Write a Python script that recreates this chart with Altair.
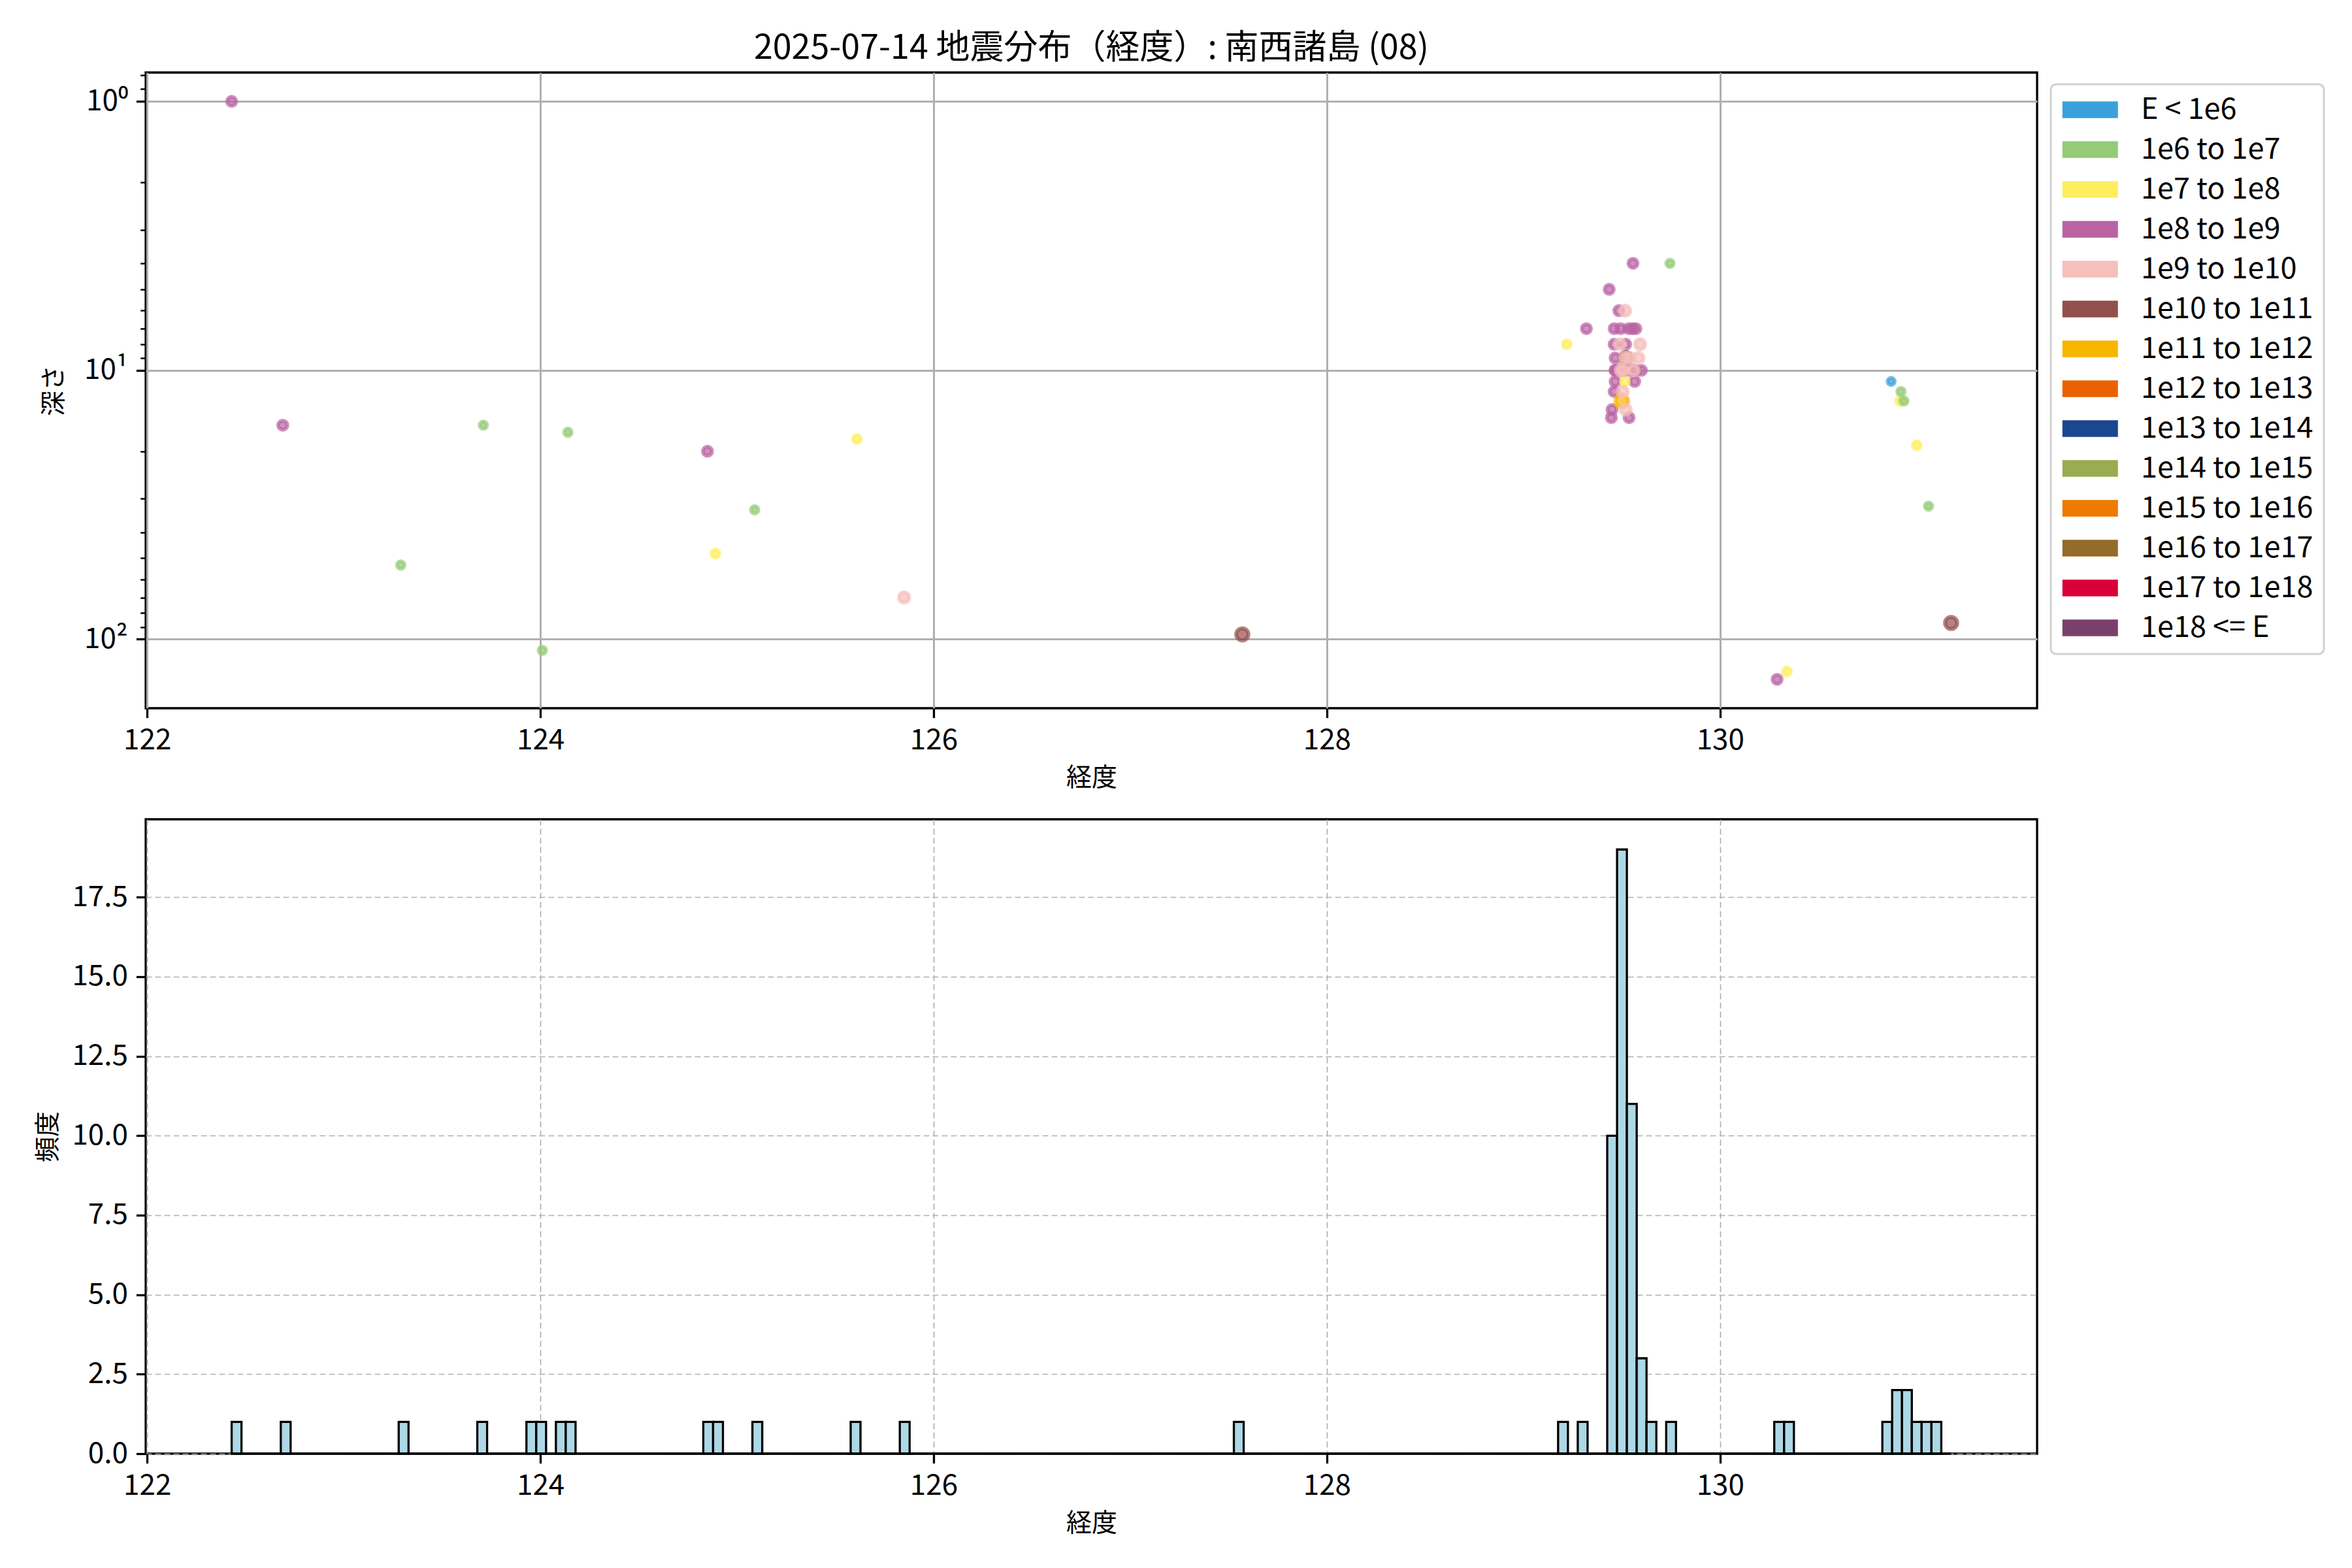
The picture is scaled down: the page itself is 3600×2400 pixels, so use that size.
import altair as alt
import pandas as pd
import math

TITLE = "2025-07-14 地震分布（経度）: 南西諸島 (08)"
FONT = "Noto Sans CJK JP"

CLASSES = ["E < 1e6", "1e6 to 1e7", "1e7 to 1e8", "1e8 to 1e9", "1e9 to 1e10",
           "1e10 to 1e11", "1e11 to 1e12", "1e12 to 1e13", "1e13 to 1e14",
           "1e14 to 1e15", "1e15 to 1e16", "1e16 to 1e17", "1e17 to 1e18", "1e18 <= E"]
COLORS = ["#3aa0dc", "#93cb76", "#fdee5f", "#b963a3", "#f5bfbb", "#934f4b", "#f8b500",
          "#ea6000", "#1b4790", "#9aab50", "#ef7a00", "#936b2a", "#d9003a", "#7b3f6e"]
DIAMETERS = [12, 12.5, 13.5, 15.5, 17.5, 21, 22, 24, 26, 28, 30, 32, 34, 36]

# longitude, depth (0 = no depth, not drawn on the log axis), energy class index
LON = [122.43, 122.69, 123.29, 123.71, 123.955, 124.01, 124.10, 124.14,
       124.85, 124.89, 125.09, 125.61, 125.85, 127.57,
       129.22, 129.32, 129.745,
       129.436, 129.461, 129.461, 129.466, 129.466, 129.461, 129.45, 129.447, 129.465, 129.47,
       129.485, 129.494, 129.52, 129.485, 129.49, 129.50, 129.505, 129.515, 129.52,
       129.557, 129.535, 129.555, 129.572, 129.566, 129.537, 129.54, 129.55, 129.57,
       129.60,
       129.516, 129.50, 129.52,
       129.517, 129.49, 129.516, 129.505, 129.52, 129.51, 129.495, 129.54, 129.56, 129.593, 129.585,
       129.65,
       130.29, 130.34, 130.87, 130.915, 130.92, 130.935, 130.95, 131.00, 131.06, 131.175]
DEPTH = [1, 16, 53, 16, 0, 110, 0, 17,
         20, 48, 33, 18, 70, 96,
         8, 7, 4,
         5, 7, 8, 9, 11, 12, 14, 15, 10, 10,
         6, 7, 8, 10, 10, 10, 10, 10, 10,
         4, 7, 7, 7, 11, 15, 10, 10, 10,
         10,
         11, 13, 9,
         6, 8, 9, 12, 14, 10, 10, 9, 10, 8, 9,
         0,
         141, 132, 11, 13, 12, 13, 0, 19, 32, 87]
CLS = [3, 3, 1, 1, 1, 1, 1, 1,
       3, 2, 1, 2, 4, 5,
       2, 3, 1,
       3, 3, 3, 3, 3, 3, 3, 3, 3, 3,
       3, 3, 3, 3, 3, 3, 3, 3, 3,
       3, 3, 3, 3, 3, 3, 3, 3, 3,
       3,
       2, 6, 5,
       4, 4, 4, 4, 4, 4, 4, 4, 4, 4, 4,
       3,
       3, 2, 0, 2, 1, 1, 1, 2, 1, 5]

NBINS = 175
HIST_YMAX = 19.95
HIST_TICKS = [0, 2.5, 5, 7.5, 10, 12.5, 15, 17.5]

AREAS = [math.pi / 4 * d * d for d in DIAMETERS]
labels = [CLASSES[i] for i in CLS]
df = pd.DataFrame({"lon": LON, "depth": DEPTH, "cls": labels, "cls_s": labels,
                   "area": [AREAS[i] for i in CLS]})

LMIN, LMAX = min(LON), max(LON)
STEP = (LMAX - LMIN) / NBINS
XPAD = 0.05 * (LMAX - LMIN)
XDOM = [LMIN - XPAD, LMAX + XPAD]
pos = [d for d in DEPTH if d > 0]
lo, hi = math.log10(min(pos)), math.log10(max(pos))
YDOM = [10 ** (lo - 0.05 * (hi - lo)), 10 ** (hi + 0.05 * (hi - lo))]

W, H1, H2 = 2895, 973, 971
TICK_FS, LAB_FS, LEG_FS, TITLE_FS = 44, 39, 45, 52
GRID = "#b0b0b0"
XTICKS = [122, 124, 126, 128, 130]
YMINOR = [0.8, 0.9] + list(range(1, 10)) + list(range(10, 100, 10)) + [100]
MAJOR = "datum.value == 1 || datum.value == 10 || datum.value == 100"
LEG_SYMBOL = 1806.25  # sqrt = 42.5 -> path unit = 21.25 px; patch 85 x 25.5 px
LEG_PATH = "M-1,-0.6H3V0.6H-1Z"

common_axis = dict(labelFont=FONT, labelFontSize=TICK_FS, titleFont=FONT, titleFontSize=LAB_FS,
                   titleFontWeight="normal", labelColor="black", titleColor="black",
                   tickColor="black", domain=False, labelPadding=13)

top = alt.Chart(df).transform_filter("datum.depth > 0").mark_circle(
    size=LEG_SYMBOL, fillOpacity=0.7, strokeOpacity=0.7, strokeWidth=6, clip=True
).encode(
    x=alt.X("lon:Q", scale=alt.Scale(domain=XDOM, nice=False, zero=False),
            axis=alt.Axis(values=XTICKS, format="d", title="経度", grid=True, gridColor=GRID,
                          gridWidth=3, tickSize=14.6, tickWidth=3.3, titlePadding=16,
                          **common_axis)),
    y=alt.Y("depth:Q", scale=alt.Scale(type="log", domain=YDOM, reverse=True, nice=False),
            axis=alt.Axis(values=YMINOR, title="深さ", grid=True, gridColor=GRID, gridWidth=3,
                          gridOpacity={"condition": {"test": MAJOR, "value": 1}, "value": 0},
                          tickSize={"condition": {"test": MAJOR, "value": 14.6}, "value": 8.3},
                          tickWidth={"condition": {"test": MAJOR, "value": 3.3}, "value": 2.5},
                          labelExpr="datum.value == 1 ? '10⁰' : datum.value == 10 ? '10¹' : datum.value == 100 ? '10²' : ''",
                          titlePadding=26, **common_axis)),
    color=alt.Color("cls:N", scale=alt.Scale(domain=CLASSES, range=COLORS),
                    legend=alt.Legend(title=None, orient="none", legendX=W + 21, legendY=18,
                                      symbolType=LEG_PATH, symbolSize=LEG_SYMBOL,
                                      symbolOpacity=1, symbolStrokeWidth=0,
                                      labelFont=FONT, labelFontSize=LEG_FS, labelColor="black",
                                      labelOffset=76.5, rowPadding=15, padding=16.5,
                                      strokeColor="#d0d0d0", cornerRadius=8,
                                      fillColor="white", labelLimit=600)),
    stroke=alt.Stroke("cls_s:N", scale=alt.Scale(domain=CLASSES, range=COLORS), legend=None),
    size=alt.Size("area:Q", scale=None, legend=None),
).properties(
    width=W, height=H1,
    title=alt.TitleParams(TITLE, anchor="middle", frame="group", font=FONT, fontSize=TITLE_FS,
                          fontWeight="normal", color="black", offset=10),
)

hist_axis = dict(grid=True, gridColor=GRID, gridWidth=1.7, gridDash=[9, 5],
                 tickSize=14.6, tickWidth=3.3, titlePadding=16, **common_axis)
hx = alt.Axis(values=XTICKS, format="d", title="経度", **hist_axis)
hy = alt.Axis(values=HIST_TICKS, format=".1f", title="頻度", **hist_axis)
hxs = alt.Scale(domain=XDOM, nice=False, zero=False)
hys = alt.Scale(domain=[0, HIST_YMAX], nice=False)

bars = alt.Chart(df).transform_bin(
    as_=["b0", "b1"], field="lon", bin=alt.Bin(extent=[LMIN, LMAX], step=STEP, nice=False)
).transform_aggregate(n="count()", groupby=["b0", "b1"]).transform_calculate(
    z="0"
).mark_bar(fill="#add8e6", stroke="black", strokeWidth=3.3).encode(
    x=alt.X("b0:Q", scale=hxs, axis=hx),
    x2="b1:Q",
    y=alt.Y("n:Q", scale=hys, axis=hy),
    y2="z:Q",
)

base_df = pd.DataFrame({"a": [LMIN], "b": [LMAX], "y": [0]})
baseline = alt.Chart(base_df).mark_rule(color="black", strokeWidth=3.3).encode(
    x=alt.X("a:Q", scale=hxs, axis=hx), x2="b:Q", y=alt.Y("y:Q", scale=hys, axis=hy)
)

bottom = alt.layer(bars, baseline).properties(width=W, height=H2)

chart = alt.vconcat(top, bottom, spacing=170, bounds="flush").properties(
    padding={"left": 45, "top": 38, "right": 10, "bottom": 10}, background="white"
).configure_view(stroke="black", strokeWidth=3.3).configure_legend(strokeWidth=3)

chart.save("out.html", embed_options={"renderer": "svg", "actions": False})
